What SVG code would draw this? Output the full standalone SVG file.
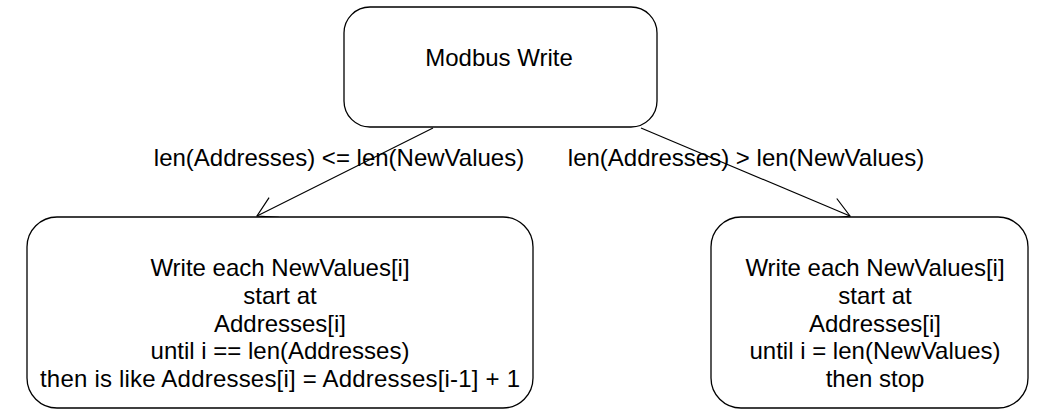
<svg xmlns="http://www.w3.org/2000/svg" width="1046" height="418" viewBox="0 0 1046 418">
<style>
.box{fill:#fff;stroke:#000;stroke-width:1.3}
.t{font-family:"Liberation Sans",Arial,sans-serif;font-size:24px;fill:#000;text-anchor:middle}
.edge{fill:none;stroke:#000;stroke-width:1.2}
</style>
<defs>
<marker id="arr" markerUnits="userSpaceOnUse" markerWidth="30" markerHeight="30" viewBox="-25 -15 30 30" refX="0" refY="0" orient="auto" overflow="visible">
<path d="M-19,-11 L0,0 L-19,11" fill="none" stroke="#000" stroke-width="1.2"/>
</marker>
</defs>
<rect width="1046" height="418" fill="#fff"/>
<g id="edges">
<line class="edge" x1="433" y1="128" x2="257" y2="216" marker-end="url(#arr)"/>
<line class="edge" x1="641" y1="128" x2="850" y2="216" marker-end="url(#arr)"/>
<text class="t" x="339" y="166">len(Addresses) &lt;= len(NewValues)</text>
<text class="t" x="746" y="166">len(Addresses) &gt; len(NewValues)</text>
</g>
<g id="modbus-write">
<rect class="box" x="344" y="7" width="313" height="120" rx="26" ry="26"/>
<text class="t" x="499" y="66">Modbus Write</text>
</g>
<g id="write-addresses">
<rect class="box" x="27" y="217" width="506" height="191" rx="30" ry="30"/>
<text class="t" x="280" y="276">Write each NewValues[i]</text>
<text class="t" x="280" y="304">start at</text>
<text class="t" x="280" y="332">Addresses[i]</text>
<text class="t" x="280" y="359">until i == len(Addresses)</text>
<text class="t" x="280" y="387" textLength="480">then is like Addresses[i] = Addresses[i-1] + 1</text>
</g>
<g id="write-newvalues">
<rect class="box" x="711" y="217" width="317" height="191" rx="30" ry="30"/>
<text class="t" x="875" y="276">Write each NewValues[i]</text>
<text class="t" x="875" y="304">start at</text>
<text class="t" x="875" y="332">Addresses[i]</text>
<text class="t" x="875" y="359">until i = len(NewValues)</text>
<text class="t" x="875" y="387">then stop</text>
</g>
</svg>
